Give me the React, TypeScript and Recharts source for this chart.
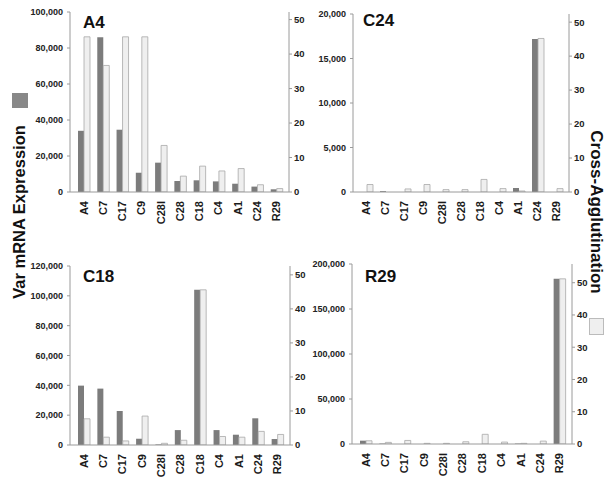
import React from 'react';
import { BarChart, Bar, XAxis, YAxis } from 'recharts';

const categories = ['A4', 'C7', 'C17', 'C9', 'C28I', 'C28', 'C18', 'C4', 'A1', 'C24', 'R29'];

const a4Expression = [34000, 86000, 34600, 10700, 16300, 6100, 6500, 5900, 4600, 3000, 1500];
const a4Agglutination = [45, 36.7, 45, 45, 13.5, 4.6, 7.5, 6.1, 6.8, 2.1, 1.0];

const c24Expression = [0, 100, 0, 0, 0, 0, 0, 0, 450, 17200, 0];
const c24Agglutination = [2.2, 0, 0.9, 2.2, 0.7, 0.7, 3.7, 1.0, 0.3, 45.2, 1.0];

const c18Expression = [39800, 37800, 22800, 4200, 400, 10000, 104000, 10000, 6900, 17900, 4000];
const c18Agglutination = [7.7, 2.3, 1.2, 8.5, 0.5, 1.4, 45.6, 2.5, 2.3, 4.0, 3.1];

const r29Expression = [3700, 500, 0, 0, 0, 0, 0, 0, 500, 0, 183700];
const r29Agglutination = [1.0, 0.5, 1.1, 0.2, 0.2, 0.7, 3.0, 0.6, 0.2, 0.9, 51.2];

const a4LeftTicks = [0, 20000, 40000, 60000, 80000, 100000];
const c24LeftTicks = [0, 5000, 10000, 15000, 20000];
const c18LeftTicks = [0, 20000, 40000, 60000, 80000, 100000, 120000];
const r29LeftTicks = [0, 50000, 100000, 150000, 200000];
const rightTicks = [0, 10, 20, 30, 40, 50];

const FONT = '"Liberation Sans", Arial, Helvetica, sans-serif';
const DARK = '#7c7c7c';
const LIGHT = '#efefef';
const LIGHT_STROKE = '#a8a8a8';
const AXIS = '#9a9a9a';

const build = (expr: number[], agg: number[]) =>
  categories.map((c, i) => ({ name: c, expr: expr[i], agg: agg[i] }));

const CatTick = (props: any) => {
  const { x, y, payload } = props;
  return (
    <text
      x={x}
      y={y}
      transform={`rotate(-90, ${x}, ${y})`}
      textAnchor="end"
      dy="0.36em"
      fontFamily={FONT}
      fontWeight="bold"
      fontSize={11}
      fill="#1a1a1a"
    >
      {payload.value}
    </text>
  );
};

const fmt = (v: number) => v.toLocaleString('en-US');

type PanelProps = {
  title: string;
  expr: number[];
  agg: number[];
  leftTicks: number[];
  rightMax: number;
  left: number;
  top: number;
  width: number;
  height: number;
  margin: { top: number; right: number; bottom: number; left: number };
  leftWidth: number;
  titlePos: { x: number; y: number };
};

const Panel = (p: PanelProps) => {
  const data = build(p.expr, p.agg);
  const leftMax = p.leftTicks[p.leftTicks.length - 1];
  return (
    <>
      <div style={{ position: 'absolute', left: p.left, top: p.top }}>
        <BarChart
          width={p.width}
          height={p.height}
          data={data}
          margin={p.margin}
          barGap={0}
          barCategoryGap={0}
          style={{ overflow: 'visible' }}
        >
          <XAxis
            dataKey="name"
            xAxisId="x"
            interval={0}
            height={36}
            tickLine={false}
            stroke={AXIS}
            tick={<CatTick />}
            tickMargin={3}
            padding={{ left: 4, right: 3 }}
          />
          <YAxis
            yAxisId="l"
            orientation="left"
            width={p.leftWidth}
            domain={[0, leftMax]}
            ticks={p.leftTicks}
            tickFormatter={fmt}
            tickSize={3}
            tickMargin={4}
            stroke={AXIS}
            tick={{ fontFamily: FONT, fontSize: 9, fontWeight: 'bold', fill: '#222' }}
            allowDataOverflow
          />
          <YAxis
            yAxisId="r"
            orientation="right"
            width={25}
            domain={[0, p.rightMax]}
            ticks={rightTicks}
            tickSize={3}
            tickMargin={2}
            stroke={AXIS}
            tick={{ fontFamily: FONT, fontSize: 9.5, fontWeight: 'bold', fill: '#222', textAnchor: 'start' }}
            allowDataOverflow
          />
          <Bar
            dataKey="expr"
            xAxisId="x"
            yAxisId="l"
            fill={DARK}
            barSize={6}
            isAnimationActive={false}
          />
          <Bar
            dataKey="agg"
            xAxisId="x"
            yAxisId="r"
            fill={LIGHT}
            stroke={LIGHT_STROKE}
            strokeWidth={0.8}
            barSize={6}
            isAnimationActive={false}
          />
        </BarChart>
      </div>
      <div
        style={{
          position: 'absolute',
          left: p.titlePos.x,
          top: p.titlePos.y,
          fontFamily: FONT,
          fontWeight: 'bold',
          fontSize: 17,
          lineHeight: '17px',
          color: '#111',
        }}
      >
        {p.title}
      </div>
    </>
  );
};

export default function App() {
  return (
    <div
      style={{
        position: 'absolute',
        left: 0,
        top: 0,
        width: 613,
        height: 490,
        background: '#fff',
        overflow: 'hidden',
      }}
    >
      <Panel
        title="A4"
        expr={a4Expression}
        agg={a4Agglutination}
        leftTicks={a4LeftTicks}
        rightMax={52.2}
        left={0}
        top={0}
        width={320}
        height={230}
        margin={{ top: 12, right: 6, bottom: 2, left: 0 }}
        leftWidth={70}
        titlePos={{ x: 83, y: 14 }}
      />
      <Panel
        title="C24"
        expr={c24Expression}
        agg={c24Agglutination}
        leftTicks={c24LeftTicks}
        rightMax={52.4}
        left={290}
        top={0}
        width={323}
        height={230}
        margin={{ top: 14, right: 19, bottom: 2, left: 0 }}
        leftWidth={63}
        titlePos={{ x: 363, y: 12 }}
      />
      <Panel
        title="C18"
        expr={c18Expression}
        agg={c18Agglutination}
        leftTicks={c18LeftTicks}
        rightMax={52.6}
        left={0}
        top={240}
        width={320}
        height={250}
        margin={{ top: 26, right: 5, bottom: 9, left: 0 }}
        leftWidth={70}
        titlePos={{ x: 83, y: 268 }}
      />
      <Panel
        title="R29"
        expr={r29Expression}
        agg={r29Agglutination}
        leftTicks={r29LeftTicks}
        rightMax={55.8}
        left={290}
        top={240}
        width={323}
        height={250}
        margin={{ top: 24, right: 16, bottom: 10, left: 0 }}
        leftWidth={62}
        titlePos={{ x: 365, y: 268 }}
      />
      <svg
        width={613}
        height={490}
        style={{ position: 'absolute', left: 0, top: 0, pointerEvents: 'none' }}
      >
        <rect x={12} y={93} width={16} height={15} fill="#888" />
        <text
          x={19}
          y={212}
          transform="rotate(-90, 19, 212)"
          textAnchor="middle"
          dominantBaseline="central"
          fontFamily={FONT}
          fontWeight="bold"
          fontSize={16.5}
          fill="#111"
        >
          Var mRNA Expression
        </text>
        <text
          x={596}
          y={212}
          transform="rotate(90, 596, 212)"
          textAnchor="middle"
          dominantBaseline="central"
          fontFamily={FONT}
          fontWeight="bold"
          fontSize={17}
          fill="#111"
        >
          Cross-Agglutination
        </text>
        <rect x={589.5} y={318.5} width={14} height={16} fill="#efefef" stroke="#bbb" strokeWidth={1} />
      </svg>
    </div>
  );
}
